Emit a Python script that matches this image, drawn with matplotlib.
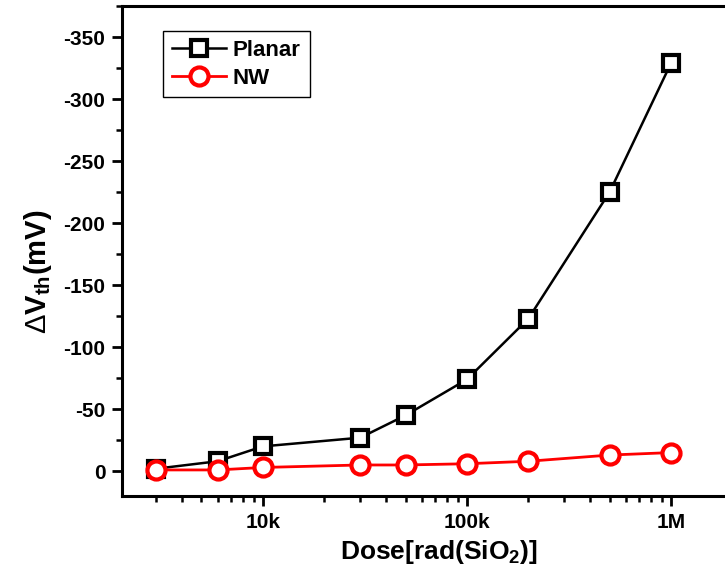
import numpy as np
import matplotlib
matplotlib.use("Agg")
import matplotlib.pyplot as plt
from matplotlib.ticker import FixedLocator, MultipleLocator, LogLocator, NullFormatter

plt.rcParams['font.family'] = ['Liberation Sans', 'DejaVu Sans']
plt.rcParams['font.weight'] = 'bold'
plt.rcParams['axes.labelweight'] = 'bold'
plt.rcParams['axes.unicode_minus'] = False
plt.rcParams['mathtext.fontset'] = 'custom'
plt.rcParams['mathtext.rm'] = 'Liberation Sans'
plt.rcParams['mathtext.it'] = 'Liberation Sans:bold'
plt.rcParams['mathtext.bf'] = 'Liberation Sans:bold'

# dose in rad(SiO2), threshold voltage shift in mV
dose = np.array([3e3, 6e3, 1e4, 3e4, 5e4, 1e5, 2e5, 5e5, 1e6])
planar = np.array([-2, -8, -20, -27, -45, -74, -123, -225, -329])
nw = np.array([-1, -1, -3, -5, -5, -6, -8, -13, -15])

xticks = [1e4, 1e5, 1e6]
xtick_labels = ['10k', '100k', '1M']

fig = plt.figure(figsize=(7.25, 5.77), dpi=100)
ax = fig.add_axes([0.1683, 0.1404, 0.848, 0.8492])

ax.plot(dose, planar, color='black', lw=1.8, marker='s', ms=11, mfc='white',
        mec='black', mew=3, label='Planar')
ax.plot(dose, nw, color='red', lw=2, marker='o', ms=13, mfc='white',
        mec='red', mew=3, label='NW')

ax.set_xscale('log')
ax.set_xlim(2040, 2.1e6)
ax.set_ylim(20, -375)

ax.xaxis.set_major_locator(FixedLocator(xticks))
ax.set_xticklabels(xtick_labels)
ax.xaxis.set_minor_locator(LogLocator(base=10, subs=np.arange(2, 10)))
ax.xaxis.set_minor_formatter(NullFormatter())

ax.yaxis.set_major_locator(MultipleLocator(50))
ax.yaxis.set_minor_locator(MultipleLocator(25))

for s in ax.spines.values():
    s.set_linewidth(2.2)
ax.tick_params(which='major', length=7, width=2, labelsize=15, direction='out', pad=5)
ax.tick_params(which='minor', length=4, width=1.8, direction='out')
ax.tick_params(top=False, right=False, which='both')

ax.set_xlabel('Dose[rad(SiO$_2$)]', fontsize=19, labelpad=6)
ax.xaxis.set_label_coords(0.515, -0.085)
# thin delta, bold rest
ax.set_ylabel('\u0394' + r'$\mathbf{V}_{\mathbf{th}}\mathbf{(mV)}$',
              fontsize=21, fontweight='normal')
ax.yaxis.set_label_coords(-0.11, 0.457)

leg = ax.legend(loc='upper left', bbox_to_anchor=(163 / 725, 1 - 31 / 577),
                bbox_transform=fig.transFigure, fancybox=False, fontsize=16,
                handlelength=2.45, handletextpad=0.3, borderpad=0.4,
                labelspacing=0.3, borderaxespad=0, framealpha=1)
leg.get_frame().set_edgecolor('black')
leg.get_frame().set_linewidth(1)

fig.savefig('out.png', dpi=100)
